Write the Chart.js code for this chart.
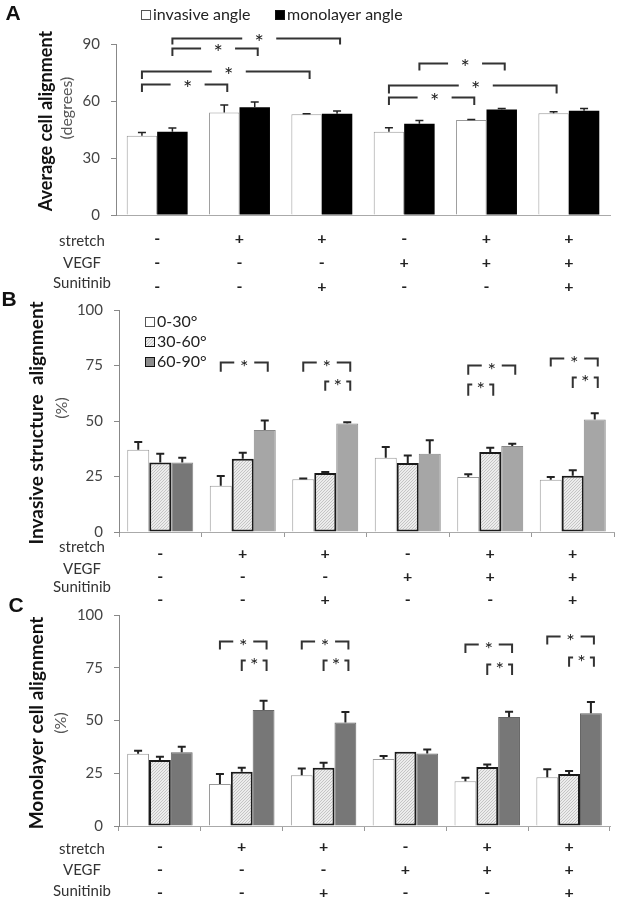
<!DOCTYPE html>
<html>
<head>
<meta charset="utf-8">
<title>Cell alignment</title>
<script src="https://cdn.jsdelivr.net/npm/chart.js@4.4.0/dist/chart.umd.min.js"></script>
<style>
  body { margin: 0; background: #fff; width: 624px; height: 903px; position: relative; overflow: hidden; }
  canvas { position: absolute; left: 0; }
</style>
</head>
<body>
<canvas id="panelA" width="624" height="298" style="top:0px"></canvas>
<canvas id="panelB" width="624" height="320" style="top:290px"></canvas>
<canvas id="panelC" width="624" height="309" style="top:594px"></canvas>
<script>
// treatment table under each group
const stretchRow   = ['-', '+', '+', '-', '+', '+'];
const vegfRow      = ['-', '-', '-', '+', '+', '+'];
const sunitinibRow = ['-', '-', '+', '-', '-', '+'];
const rowNames = ['stretch', 'VEGF', 'Sunitinib'];

// A: average cell alignment (degrees)
const invasiveAngle     = [41.7, 54.0, 53.0, 43.8, 50.0, 53.6];
const invasiveAngleErr  = [1.7, 3.9, 0.3, 2.1, 0.3, 0.8];
const monolayerAngle    = [43.8, 56.7, 53.3, 48.0, 55.5, 54.9];
const monolayerAngleErr = [2.0, 2.8, 1.4, 1.8, 0.6, 1.2];
const angleTicks = [0, 30, 60, 90];

// B: invasive structure alignment (%)
const inv0to30     = [37.1, 20.8, 23.8, 33.5, 24.8, 23.5];
const inv0to30Err  = [3.4, 4.4, 0.3, 4.8, 1.2, 1.3];
const inv30to60    = [31.3, 33.0, 26.6, 31.1, 36.0, 25.3];
const inv30to60Err = [4.0, 2.7, 0.4, 3.4, 2.0, 2.5];
const inv60to90    = [31.3, 46.0, 48.9, 35.3, 38.7, 50.7];
const inv60to90Err = [2.2, 4.2, 0.5, 6.0, 1.1, 2.8];

// C: monolayer cell alignment (%)
const mono0to30     = [34.2, 19.9, 24.0, 31.8, 21.2, 23.1];
const mono0to30Err  = [1.5, 4.7, 3.3, 1.4, 1.7, 3.8];
const mono30to60    = [31.3, 25.7, 27.6, 35.2, 28.0, 24.6];
const mono30to60Err = [1.5, 1.9, 2.4, 0, 1.1, 1.5];
const mono60to90    = [34.9, 55.0, 49.1, 34.4, 51.7, 53.4];
const mono60to90Err = [2.7, 4.4, 4.9, 1.9, 2.5, 5.4];
const percentTicks = [0, 25, 50, 75, 100];

// significance brackets: [fromGroup, fromBar, toGroup, toBar, lineValue, legEndValue]
const sigA = [
  [0, 1, 2, 1, 93.3, 89.8],
  [0, 1, 1, 1, 87.7, 83.7],
  [0, 0, 2, 0, 75.8, 71.6],
  [0, 0, 1, 0, 68.9, 64.7],
  [3, 1, 4, 1, 80.2, 76.0],
  [3, 0, 5, 0, 68.4, 64.0],
  [3, 0, 4, 0, 62.3, 57.9]
];
const sigB = [
  [1, 0, 1, 2, 76.7, 72.2],
  [2, 0, 2, 2, 76.7, 72.2],
  [2, 1, 2, 2, 68.1, 63.6],
  [4, 0, 4, 2, 75.2, 70.8],
  [4, 0, 4, 1, 66.7, 61.4],
  [5, 0, 5, 2, 78.2, 74.6],
  [5, 1, 5, 2, 69.7, 64.9]
];
const sigC = [
  [1, 0, 1, 2, 87.8, 83.7],
  [1, 1, 1, 2, 78.7, 73.5],
  [2, 0, 2, 2, 87.8, 83.7],
  [2, 1, 2, 2, 78.7, 73.5],
  [4, 0, 4, 2, 86.3, 82.0],
  [4, 1, 4, 2, 77.0, 71.6],
  [5, 0, 5, 2, 90.1, 86.0],
  [5, 1, 5, 2, 80.3, 75.5]
];

const groupLabels = stretchRow.map((s, i) => [s, vegfRow[i], sunitinibRow[i]]);

function hatch() {
  const c = document.createElement('canvas');
  c.width = 3; c.height = 3;
  const g = c.getContext('2d');
  g.fillStyle = '#ececec';
  g.fillRect(0, 0, 3, 3);
  g.strokeStyle = '#c4c4c4';
  g.lineWidth = 1;
  g.beginPath();
  g.moveTo(-1, 4); g.lineTo(4, -1);
  g.moveTo(2, 4); g.lineTo(4, 2);
  g.moveTo(-1, 1); g.lineTo(1, -1);
  g.stroke();
  return g.createPattern(c, 'repeat');
}
const hatched = hatch();

function drawText(ctx, s, x, y, font, color, rot) {
  ctx.save();
  ctx.translate(x, y);
  if (rot) ctx.rotate(rot);
  ctx.font = font;
  ctx.fillStyle = color;
  ctx.textAlign = 'center';
  ctx.textBaseline = 'middle';
  ctx.fillText(s, 0, 0);
  ctx.restore();
}

function extras(p) {
  return {
    id: 'extras',
    afterDatasetsDraw(chart) {
      const ctx = chart.ctx;
      const y = chart.scales.y;
      ctx.save();
      ctx.strokeStyle = '#222';
      ctx.lineWidth = p.errWidth;
      // error bars, upper half only
      p.errors.forEach((errs, di) => {
        const data = chart.data.datasets[di].data;
        chart.getDatasetMeta(di).data.forEach((bar, i) => {
          if (!errs[i]) return;
          const top = y.getPixelForValue(data[i] + errs[i]);
          ctx.beginPath();
          ctx.moveTo(bar.x, bar.y);
          ctx.lineTo(bar.x, top);
          ctx.moveTo(bar.x - 4, top);
          ctx.lineTo(bar.x + 4, top);
          ctx.stroke();
        });
      });
      // significance brackets
      ctx.strokeStyle = '#333';
      ctx.lineWidth = 2;
      p.sig.forEach(([g1, b1, g2, b2, v, leg]) => {
        const x1 = chart.getDatasetMeta(b1).data[g1].x;
        const x2 = chart.getDatasetMeta(b2).data[g2].x + 3;
        const yl = Math.round(y.getPixelForValue(v)) + 0.5;
        const ye = y.getPixelForValue(leg);
        const mid = (x1 + x2) / 2 + p.starShift;
        const half = Math.min(p.gap, (x2 - x1) / 2 - 4);
        ctx.beginPath();
        ctx.moveTo(x1, ye); ctx.lineTo(x1, yl); ctx.lineTo(mid - half, yl);
        ctx.moveTo(mid + half, yl); ctx.lineTo(x2, yl); ctx.lineTo(x2, ye);
        ctx.stroke();
        ctx.font = p.starFont;
        ctx.fillStyle = '#222';
        ctx.textAlign = 'center';
        ctx.textBaseline = 'alphabetic';
        ctx.fillText('*', mid, yl + p.starDrop);
      });
      ctx.restore();
    },
    afterDraw(chart) {
      const ctx = chart.ctx;
      const area = chart.chartArea;
      drawText(ctx, p.letter, p.letterPos[0], p.letterPos[1], 'bold 21px "Liberation Sans"', '#111');
      drawText(ctx, p.title, p.titlePos[0], p.titlePos[1], p.titleFont, '#111', -Math.PI / 2);
      drawText(ctx, p.unit, p.unitPos[0], p.unitPos[1], '16px Lato', '#555', -Math.PI / 2);
      rowNames.forEach((r, i) => {
        drawText(ctx, r, 82, area.bottom + p.rowOffsets[i], '15px Lato', '#333');
      });
      // legend
      p.legendPos.forEach(([lx, ly], i) => {
        ctx.save();
        ctx.fillStyle = p.swatches[i];
        ctx.fillRect(lx, ly - 5, 10, 10);
        ctx.strokeStyle = i === 0 ? '#555' : '#111';
        ctx.lineWidth = 1;
        ctx.strokeRect(lx + 0.5, ly - 4.5, 9, 9);
        ctx.font = '16px Lato';
        ctx.fillStyle = '#222';
        ctx.textAlign = 'left';
        ctx.textBaseline = 'middle';
        ctx.fillText(chart.data.datasets[i].label, lx + 12, ly);
        ctx.restore();
      });
    }
  };
}

function panel(id, p) {
  return new Chart(document.getElementById(id), {
    type: 'bar',
    data: { labels: groupLabels, datasets: p.datasets },
    options: {
      responsive: false,
      animation: false,
      devicePixelRatio: 1,
      layout: { padding: p.padding },
      plugins: { legend: { display: false }, tooltip: { enabled: false } },
      datasets: { bar: { categoryPercentage: p.catPct, barPercentage: 1 } },
      scales: {
        x: {
          grid: { display: p.xTicks, drawTicks: p.xTicks, drawOnChartArea: false, tickLength: 5, color: '#999' },
          border: { color: '#aaa' },
          ticks: {
            maxRotation: 0, autoSkip: false, padding: p.xPad, color: '#222',
            font: { family: 'Lato', size: 16, weight: 'bold', lineHeight: p.rowGap + 'px' }
          },
          afterFit: s => { s.height = p.xHeight; }
        },
        y: {
          min: 0, max: p.ticks[p.ticks.length - 1],
          grid: { drawOnChartArea: false, tickLength: 5, color: '#888' },
          border: { color: '#888' },
          ticks: { padding: 11, color: '#444', font: { family: 'Lato', size: 15 } },
          afterBuildTicks: s => { s.ticks = p.ticks.map(v => ({ value: v })); },
          afterFit: s => { s.width = p.yWidth; }
        }
      }
    },
    plugins: [extras(p)]
  });
}

const whiteBar = { backgroundColor: '#fff', borderColor: '#999', borderWidth: 1 };
const hatchBar = { backgroundColor: hatched, borderColor: '#1a1a1a', borderWidth: 2, borderSkipped: false };

panel('panelA', {
  datasets: [
    Object.assign({ label: 'invasive angle', data: invasiveAngle }, whiteBar),
    { label: 'monolayer angle', data: monolayerAngle, backgroundColor: '#000', borderWidth: 0 }
  ],
  errors: [invasiveAngleErr, monolayerAngleErr],
  sig: sigA, gap: 17, starShift: 3, starFont: '22px Lato', starDrop: 11, errWidth: 1.5,
  ticks: angleTicks, catPct: 0.74,
  padding: { top: 44, right: 14, left: 0, bottom: 0 }, yWidth: 116, xHeight: 83,
  xTicks: false, xPad: 12, rowGap: 24, rowOffsets: [26, 48, 68],
  letter: 'A', letterPos: [13, 14],
  title: 'Average cell alignment', titleFont: 'bold 18px Lato', titlePos: [46, 121],
  unit: '(degrees)', unitPos: [67, 108],
  swatches: ['#fff', '#000'], legendPos: [[141, 15], [275, 15]]
});

panel('panelB', {
  datasets: [
    Object.assign({ label: '0-30°', data: inv0to30 }, whiteBar),
    Object.assign({ label: '30-60°', data: inv30to60 }, hatchBar),
    { label: '60-90°', data: inv60to90, borderColor: '#888', borderWidth: 1,
      backgroundColor: ['#777', '#a6a6a6', '#a6a6a6', '#a6a6a6', '#a6a6a6', '#a6a6a6'] }
  ],
  errors: [inv0to30Err, inv30to60Err, inv60to90Err],
  sig: sigB, gap: 10, starShift: 0, starFont: '20px Lato', starDrop: 11, errWidth: 2,
  ticks: percentTicks, catPct: 0.8,
  padding: { top: 19, right: 10, left: 0, bottom: 0 }, yWidth: 119, xHeight: 78,
  xTicks: true, xPad: 5, rowGap: 23, rowOffsets: [15, 37, 55],
  letter: 'B', letterPos: [9, 10],
  title: 'Invasive structure  alignment', titleFont: 'bold 19px Lato', titlePos: [37, 133],
  unit: '(%)', unitPos: [62, 118],
  swatches: ['#fff', hatched, '#8c8c8c'], legendPos: [[145, 32], [145, 52], [145, 72]]
});

panel('panelC', {
  datasets: [
    Object.assign({ label: '0-30°', data: mono0to30 }, whiteBar),
    Object.assign({ label: '30-60°', data: mono30to60 }, hatchBar),
    { label: '60-90°', data: mono60to90, backgroundColor: '#777', borderColor: '#666', borderWidth: 1 }
  ],
  errors: [mono0to30Err, mono30to60Err, mono60to90Err],
  sig: sigC, gap: 10, starShift: 0, starFont: '20px Lato', starDrop: 11, errWidth: 2,
  ticks: percentTicks, catPct: 0.8,
  padding: { top: 21, right: 14, left: 0, bottom: 0 }, yWidth: 119, xHeight: 77,
  xTicks: true, xPad: 4, rowGap: 23, rowOffsets: [23, 44, 65],
  letter: 'C', letterPos: [16, 12],
  title: 'Monolayer cell alignment', titleFont: 'bold 19px Lato', titlePos: [37, 129],
  unit: '(%)', unitPos: [61, 129],
  swatches: [], legendPos: []
});
</script>
</body>
</html>
